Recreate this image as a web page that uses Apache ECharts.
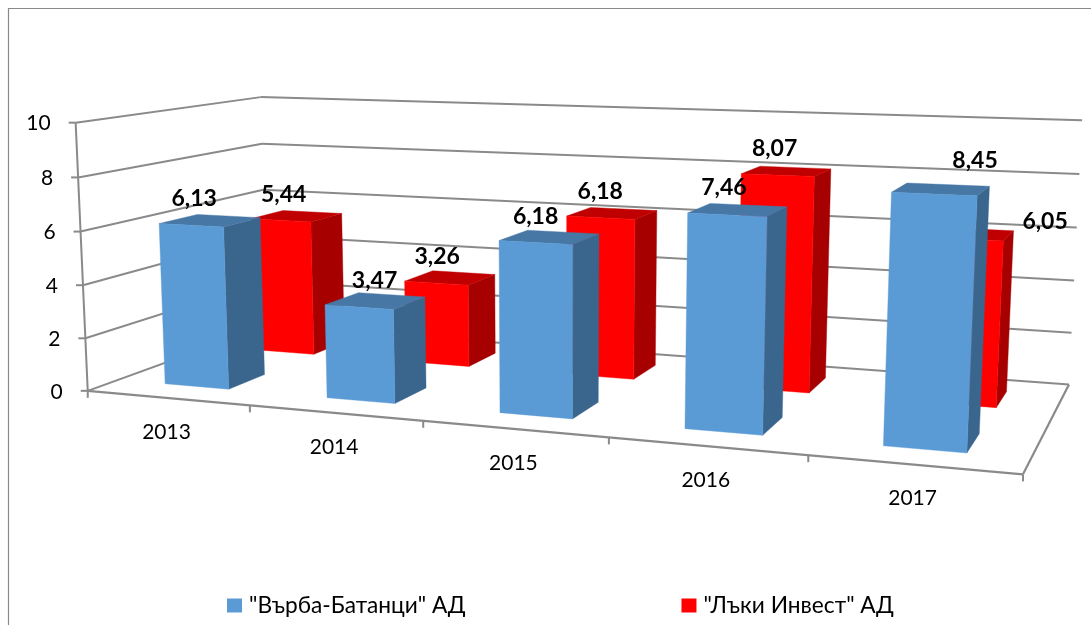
<!DOCTYPE html>
<html><head><meta charset="utf-8">
<style>html,body{margin:0;padding:0;background:#fff}#c{width:1091px;height:625px}</style>
<script src="https://cdn.jsdelivr.net/npm/echarts@6/dist/echarts.min.js"></script>
</head><body><div id="c"></div>
<script>
// ---- data ----
const categories = ['2013','2014','2015','2016','2017'];
const seriesNames = ['"Върба-Батанци" АД','"Лъки Инвест" АД'];
const varbaValues = [6.13,3.47,6.18,7.46,8.45];
const lukiValues = [5.44,3.26,6.18,8.07,6.05];
const yTicks = [0,2,4,6,8,10];

// ---- camera calibration: [u, v, d] of the plot box -> screen pixel ----
const calib = [
 [0,0,0,88.3,390.7],[0,.2,0,85.7,338],[0,.4,0,83,285],[0,.6,0,80.5,231.7],[0,.8,0,77.7,177],[0,1,0,75,122.7],
 [0,0,1,266,326],[0,1,1,261.7,97.3],
 [1,0,1,1069,384],[1,.2,1,1072,332],[1,.4,1,1074,281],[1,.6,1,1077,228],[1,.8,1,1079,174],[1,1,1,1082,120],
 [1,0,0,1023,474],[.2,0,0,250.7,406],[.4,0,0,422.7,420],[.6,0,0,609,438],[.8,0,0,808,456]
];
function solveCamera(pts){
  const n=11, A=[...Array(n)].map(()=>Array(n+1).fill(0));
  const add=(r,b)=>{for(let i=0;i<n;i++){for(let j=0;j<n;j++)A[i][j]+=r[i]*r[j];A[i][n]+=r[i]*b;}};
  pts.forEach(([u,v,d,x,y])=>{x/=1000;y/=1000;
    add([u,v,d,1,0,0,0,0,-x*u,-x*v,-x*d],x);
    add([0,0,0,0,u,v,d,1,-y*u,-y*v,-y*d],y);});
  for(let i=0;i<n;i++){let p=i;for(let k=i+1;k<n;k++)if(Math.abs(A[k][i])>Math.abs(A[p][i]))p=k;
    [A[i],A[p]]=[A[p],A[i]];
    for(let k=0;k<n;k++){if(k===i)continue;const f=A[k][i]/A[i][i];for(let j=i;j<=n;j++)A[k][j]-=f*A[i][j];}}
  return A.map((r,i)=>r[n]/r[i]);
}
const M=solveCamera(calib);
function project(u,v,d){
  const w=M[8]*u+M[9]*v+M[10]*d+1;
  return [1000*(M[0]*u+M[1]*v+M[2]*d+M[3])/w,1000*(M[4]*u+M[5]*v+M[6]*d+M[7])/w];
}
// grid pixel + depth -> screen pixel
function warp(cs,gx,gy,d){return project((gx-cs.x)/cs.width,(cs.y+cs.height-gy)/cs.height,d);}

const family='Lato, Carlito, "Open Sans", sans-serif';
const axisColor='#8a8a8a', textFont='21px '+family, boldFont='bold 23px '+family;
const seg=(a,b,w)=>({type:'line',shape:{x1:a[0],y1:a[1],x2:b[0],y2:b[1]},style:{stroke:axisColor,lineWidth:w||2,fill:null}});
const txt=(p,t,font,al)=>({type:'text',style:{x:p[0],y:p[1],text:t,font:font,fill:'#000',textAlign:al||'center',textVerticalAlign:'middle'}});
const poly=(pts,c)=>({type:'polygon',shape:{points:pts},style:{fill:c,stroke:c,lineWidth:.4}});

// ---- walls, floor, gridlines, ticks ----
function renderWalls(params,api){
  const cs=params.coordSys, L=cs.x, R=cs.x+cs.width, c=[];
  yTicks.forEach(t=>{
    const gy=api.coord([0,t])[1];
    const f=warp(cs,L,gy,0), b=warp(cs,L,gy,1), r=warp(cs,R,gy,1);
    c.push(seg(f,b),seg(b,r),seg(f,[f[0]-7,f[1]]));
    c.push(txt([f[0]-25,f[1]+1],String(t),textFont,'right'));
  });
  const y0=api.coord([0,0])[1], y1=api.coord([0,10])[1];
  c.push(seg(warp(cs,L,y0,0),warp(cs,L,y1,0)));
  c.push(seg(warp(cs,L,y0,0),warp(cs,R,y0,0),2.2));
  c.push(seg(warp(cs,R,y0,0),warp(cs,R,y0,1),2.2));
  const band=api.size([1,0])[0];
  categories.forEach((n,i)=>{
    const gx=api.coord([i,0])[0];
    const e=warp(cs,gx-band/2,y0,0);
    c.push(seg(e,[e[0],e[1]+7]));
    const m=warp(cs,gx,y0,0);
    c.push(txt([m[0]-1,m[1]+34],n,textFont));
  });
  const e=warp(cs,R,y0,0); c.push(seg(e,[e[0],e[1]+7]));
  return {type:'group',children:c};
}

// ---- 3D bars ----
const halfWidth=0.2;
function barBox(params,api,depth){
  const cs=params.coordSys, band=api.size([1,0])[0];
  const base=api.coord([api.value(0),0]), top=api.coord([api.value(0),api.value(1)]);
  const l=base[0]-band*halfWidth, r=base[0]+band*halfWidth;
  return {cs,l,r,cx:base[0],by:base[1],ty:top[1],d0:depth[0],d1:depth[1]};
}
function barRenderer(depth,colors){
  return (params,api)=>{
    const b=barBox(params,api,depth), P=(x,y,d)=>warp(b.cs,x,y,d);
    return {type:'group',children:[
      poly([P(b.r,b.by,b.d0),P(b.r,b.by,b.d1),P(b.r,b.ty,b.d1),P(b.r,b.ty,b.d0)],colors.side),
      poly([P(b.l,b.ty,b.d0),P(b.r,b.ty,b.d0),P(b.r,b.ty,b.d1),P(b.l,b.ty,b.d1)],colors.top),
      poly([P(b.l,b.by,b.d0),P(b.r,b.by,b.d0),P(b.r,b.ty,b.d0),P(b.l,b.ty,b.d0)],colors.front)
    ]};
  };
}
function labelRenderer(depth,offsets){
  return (params,api)=>{
    const b=barBox(params,api,depth), p=warp(b.cs,b.cx,b.ty,(b.d0+b.d1)/2), o=offsets[params.dataIndex];
    const s=api.value(1).toFixed(2).replace('.',',');
    return txt([p[0]+o[0],p[1]+o[1]],s,boldFont);
  };
}
const blueDepth=[.15,.35], redDepth=[.65,.85];
const blueColors={front:'#5B9BD5',side:'#3A668E',top:'#4677A5'};
const redColors={front:'#FF0000',side:'#A60000',top:'#C00000'};
const blueLabelOffsets=[[-16,-22],[-1,-20],[-14,-21],[-14,-22],[34,-29]];
const redLabelOffsets=[[-13,-22],[-13,-21],[-12,-22],[-12,-23],[75,-12]];

const pairs=v=>v.map((y,i)=>[i,y]);
const chart=echarts.init(document.getElementById('c'),null,{renderer:'canvas'});
chart.setOption({
  animation:false,
  backgroundColor:'#fff',
  grid:{left:88,right:68,top:122,bottom:235},
  xAxis:{type:'category',data:categories,axisLine:{show:false},axisTick:{show:false},axisLabel:{show:false},splitLine:{show:false}},
  yAxis:{type:'value',min:0,max:10,interval:2,axisLine:{show:false},axisTick:{show:false},axisLabel:{show:false},splitLine:{show:false}},
  legend:{data:seriesNames,left:222,top:589,icon:'rect',itemWidth:15,itemHeight:14,itemGap:216,
    textStyle:{fontFamily:family,fontSize:22.7,color:'#000',padding:[0,0,0,2]}},
  graphic:[{type:'polyline',shape:{points:[[8.5,625],[8.5,8.5],[1091,8.5]]},style:{stroke:axisColor,fill:null,lineWidth:1.2},silent:true}],
  series:[
    {type:'custom',name:'walls',data:[0],renderItem:renderWalls,silent:true,z:1},
    {type:'custom',name:seriesNames[1],data:pairs(lukiValues),renderItem:barRenderer(redDepth,redColors),itemStyle:{color:redColors.front},encode:{x:0,y:1},z:2},
    {type:'custom',name:seriesNames[0],data:pairs(varbaValues),renderItem:barRenderer(blueDepth,blueColors),itemStyle:{color:blueColors.front},encode:{x:0,y:1},z:3},
    {type:'custom',name:'labels-red',data:pairs(lukiValues),renderItem:labelRenderer(redDepth,redLabelOffsets),encode:{x:0,y:1},silent:true,z:4},
    {type:'custom',name:'labels-blue',data:pairs(varbaValues),renderItem:labelRenderer(blueDepth,blueLabelOffsets),encode:{x:0,y:1},silent:true,z:4}
  ]
});
</script></body></html>
